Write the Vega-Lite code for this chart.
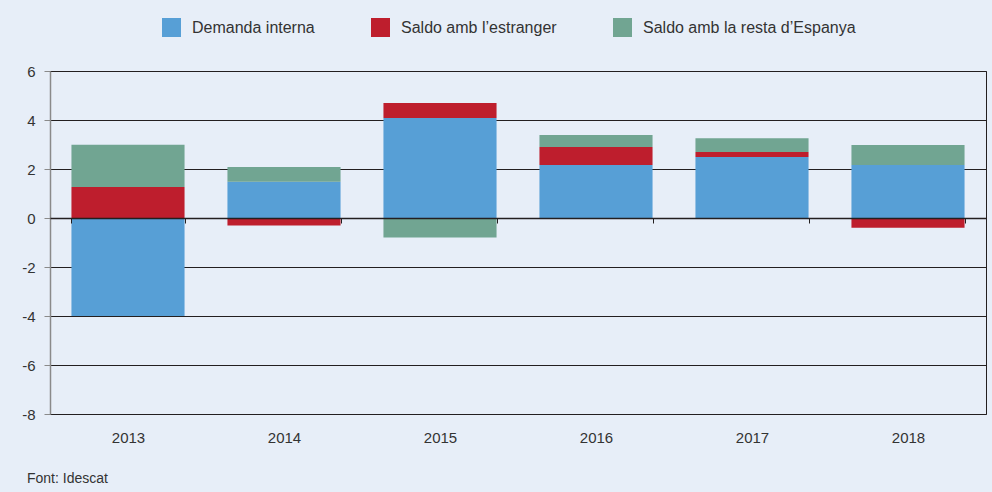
{
  "$schema": "https://vega.github.io/schema/vega-lite/v6.json",
  "autosize": "none",
  "width": 936,
  "height": 343,
  "padding": {"left": 50, "top": 71, "right": 6, "bottom": 78},
  "background": "#E7EEF8",
  "config": {
    "view": {"stroke": "#231f20", "strokeWidth": 1},
    "font": "Liberation Sans"
  },
  "title": {
    "text": "Font: Idescat",
    "orient": "bottom",
    "anchor": "start",
    "frame": "group",
    "dx": -23,
    "offset": 27,
    "fontSize": 14,
    "fontWeight": "normal",
    "color": "#333333",
    "font": "Liberation Sans"
  },
  "data": {
    "values": [
      {"year": "2013", "component": "Demanda interna", "ord": 1, "value": -4.0},
      {"year": "2013", "component": "Saldo amb l’estranger", "ord": 2, "value": 1.27},
      {"year": "2013", "component": "Saldo amb la resta d’Espanya", "ord": 3, "value": 1.72},
      {"year": "2014", "component": "Demanda interna", "ord": 1, "value": 1.48},
      {"year": "2014", "component": "Saldo amb l’estranger", "ord": 2, "value": -0.31},
      {"year": "2014", "component": "Saldo amb la resta d’Espanya", "ord": 3, "value": 0.6},
      {"year": "2015", "component": "Demanda interna", "ord": 1, "value": 4.08},
      {"year": "2015", "component": "Saldo amb l’estranger", "ord": 2, "value": 0.61},
      {"year": "2015", "component": "Saldo amb la resta d’Espanya", "ord": 3, "value": -0.8},
      {"year": "2016", "component": "Demanda interna", "ord": 1, "value": 2.16},
      {"year": "2016", "component": "Saldo amb l’estranger", "ord": 2, "value": 0.74},
      {"year": "2016", "component": "Saldo amb la resta d’Espanya", "ord": 3, "value": 0.49},
      {"year": "2017", "component": "Demanda interna", "ord": 1, "value": 2.49},
      {"year": "2017", "component": "Saldo amb l’estranger", "ord": 2, "value": 0.2},
      {"year": "2017", "component": "Saldo amb la resta d’Espanya", "ord": 3, "value": 0.57},
      {"year": "2018", "component": "Demanda interna", "ord": 1, "value": 2.16},
      {"year": "2018", "component": "Saldo amb l’estranger", "ord": 2, "value": -0.4},
      {"year": "2018", "component": "Saldo amb la resta d’Espanya", "ord": 3, "value": 0.82}
    ]
  },
  "mark": {"type": "bar"},
  "encoding": {
    "x": {
      "field": "year",
      "type": "nominal",
      "scale": {"paddingInner": 0.275, "paddingOuter": 0.1375},
      "axis": {
        "title": null,
        "labelAngle": 0,
        "offset": -196,
        "labelPadding": 207,
        "labelFontSize": 15,
        "labelColor": "#333333",
        "domainColor": "#231f20",
        "domainWidth": 1.5,
        "tickColor": "#231f20",
        "tickSize": 5,
        "tickBand": "extent",
        "zindex": 1
      }
    },
    "y": {
      "field": "value",
      "type": "quantitative",
      "aggregate": "sum",
      "stack": "zero",
      "scale": {"domain": [-8, 6], "nice": false},
      "axis": {
        "title": null,
        "values": [-8, -6, -4, -2, 0, 2, 4, 6],
        "labelExpr": "datum.value + ''",
        "labelFontSize": 15,
        "labelColor": "#333333",
        "labelPadding": 9,
        "grid": true,
        "gridColor": "#231f20",
        "gridWidth": 1,
        "domainColor": "#8a8a8a",
        "domainWidth": 1.5,
        "tickColor": "#8a8a8a",
        "tickSize": 6
      }
    },
    "color": {
      "field": "component",
      "type": "nominal",
      "scale": {
        "domain": ["Demanda interna", "Saldo amb l’estranger", "Saldo amb la resta d’Espanya"],
        "range": ["#579FD6", "#BE1E2D", "#71A592"]
      },
      "legend": {
        "title": null,
        "orient": "none",
        "direction": "horizontal",
        "legendX": 112,
        "legendY": -53,
        "symbolType": "square",
        "symbolSize": 361,
        "symbolStrokeWidth": 0,
        "symbolOpacity": 1,
        "labelFontSize": 16,
        "labelColor": "#333333",
        "labelOffset": 11,
        "labelLimit": 400,
        "columnPadding": 56
      }
    },
    "order": {"field": "ord", "type": "quantitative"}
  }
}
